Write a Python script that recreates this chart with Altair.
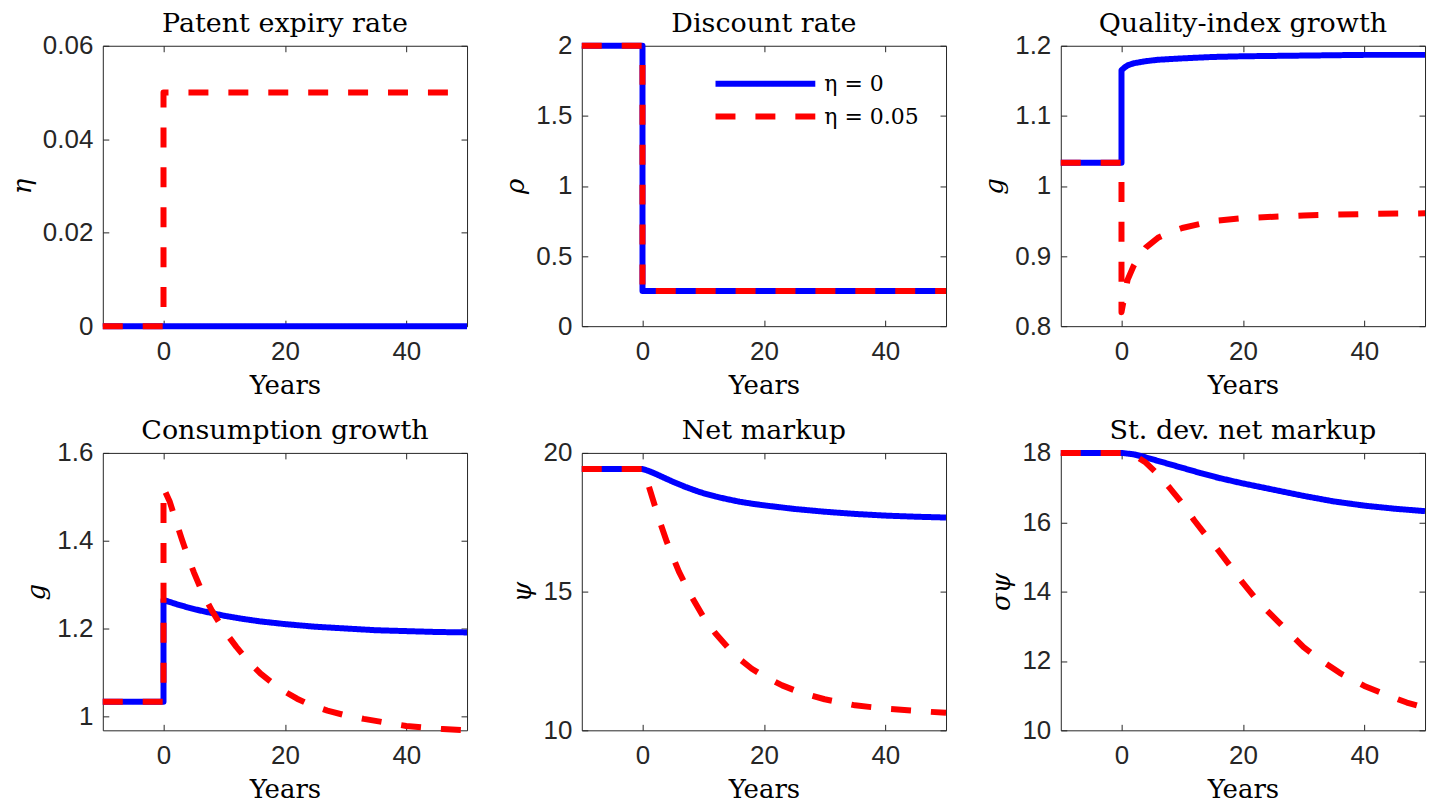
import altair as alt
import pandas as pd

# ---------------- data ----------------
series_names = ["η = 0", "η = 0.05"]
series_colors = ["#0000ff", "#ff0000"]

x_ticks = [0, 20, 40]

# Patent expiry rate
eta_blue_t = [-10, 50]
eta_blue_v = [0.0, 0.0]
eta_red_t = [-10, 0, 0, 50]
eta_red_v = [0.0, 0.0, 0.05, 0.05]

# Discount rate
rho_blue_t = [-10, 0, 0, 50]
rho_blue_v = [2.0, 2.0, 0.25, 0.25]
rho_red_t = [-10, 0, 0, 50]
rho_red_v = [2.0, 2.0, 0.25, 0.25]

# Quality-index growth
qg_blue_t = [-10, 0, 0, 0.5, 1, 2, 4, 6, 10, 15, 20, 30, 40, 50]
qg_blue_v = [1.033, 1.033, 1.165, 1.169, 1.172, 1.175, 1.178, 1.180, 1.182, 1.184, 1.185, 1.186, 1.187, 1.187]
qg_red_t = [-10, 0, 0, 1, 2, 3, 4, 6, 8, 10, 15, 20, 30, 40, 50]
qg_red_v = [1.033, 1.033, 0.820, 0.866, 0.886, 0.900, 0.912, 0.926, 0.934, 0.940, 0.950, 0.954, 0.958, 0.960, 0.961]

# Consumption growth
cg_blue_t = [-10, 0, 0, 2, 4, 6, 8, 10, 13, 16, 20, 25, 30, 35, 40, 45, 50]
cg_blue_v = [1.033, 1.033, 1.265, 1.256, 1.248, 1.241, 1.235, 1.229, 1.222, 1.216, 1.210, 1.204, 1.200, 1.196, 1.194, 1.192, 1.191]
cg_red_t = [-10, 0, 0, 1, 2, 3, 4, 5, 6, 7, 8, 10, 12, 14, 16, 18, 20, 22, 24, 27, 30, 33, 36, 40, 43, 46, 50]
cg_red_v = [1.033, 1.033, 1.52, 1.49, 1.447, 1.404, 1.364, 1.328, 1.295, 1.266, 1.24, 1.195, 1.158, 1.125, 1.097, 1.075,
            1.056, 1.04, 1.027, 1.013, 1.002, 0.994, 0.987, 0.978, 0.974, 0.971, 0.968]

# Net markup
nm_blue_t = [-10, 0, 1, 2, 3, 4, 5, 6, 7, 8, 9, 10, 12, 14, 16, 18, 20, 25, 30, 35, 40, 45, 50]
nm_blue_v = [19.42, 19.42, 19.35, 19.26, 19.16, 19.06, 18.96, 18.87, 18.78, 18.70, 18.62, 18.55, 18.43, 18.33,
             18.24, 18.17, 18.11, 17.98, 17.88, 17.80, 17.74, 17.70, 17.67]
nm_red_t = [-10, 0, 1, 2, 3, 4, 5, 6, 8, 10, 12, 14, 16, 18, 20, 23, 26, 30, 35, 40, 45, 50]
nm_red_v = [19.42, 19.42, 18.82, 18.12, 17.43, 16.8, 16.25, 15.72, 14.85, 14.1, 13.5, 13.0, 12.57, 12.22, 11.95, 11.62,
            11.36, 11.12, 10.9, 10.78, 10.7, 10.63]

# St. dev. net markup
sd_blue_t = [-10, 0, 2, 4, 6, 8, 10, 13, 16, 20, 25, 30, 35, 40, 45, 50]
sd_blue_v = [18.0, 18.0, 17.96, 17.87, 17.77, 17.67, 17.57, 17.42, 17.28, 17.12, 16.94, 16.76, 16.6, 16.48, 16.39, 16.32]
sd_red_t = [-10, 0, 2, 4, 6, 8, 10, 12, 14, 16, 18, 20, 22, 24, 26, 28, 30, 33, 36, 40, 44, 47, 50]
sd_red_v = [18.0, 18.0, 17.95, 17.72, 17.38, 16.98, 16.55, 16.05, 15.6, 15.18, 14.72, 14.25, 13.82, 13.45, 13.1, 12.75,
            12.4, 12.0, 11.65, 11.28, 11.0, 10.8, 10.65]

panels = [
    ("Patent expiry rate", "η", eta_blue_t, eta_blue_v, eta_red_t, eta_red_v, [0, 0.06], [0, 0.02, 0.04, 0.06]),
    ("Discount rate", "ρ", rho_blue_t, rho_blue_v, rho_red_t, rho_red_v, [0, 2], [0, 0.5, 1, 1.5, 2]),
    ("Quality-index growth", "g", qg_blue_t, qg_blue_v, qg_red_t, qg_red_v, [0.8, 1.2], [0.8, 0.9, 1, 1.1, 1.2]),
    ("Consumption growth", "g", cg_blue_t, cg_blue_v, cg_red_t, cg_red_v, [0.968, 1.6], [1, 1.2, 1.4, 1.6]),
    ("Net markup", "ψ", nm_blue_t, nm_blue_v, nm_red_t, nm_red_v, [10, 20], [10, 15, 20]),
    ("St. dev. net markup", "σψ", sd_blue_t, sd_blue_v, sd_red_t, sd_red_v, [10, 18], [10, 12, 14, 16, 18]),
]

AX = "#262626"
SANS = "Liberation Sans"
SERIF = "DejaVu Serif"
LW = 6


def make_panel(k, title, ytitle, bt, bv, rt, rv, ydom, yticks, height):
    df_b = pd.DataFrame({"t": bt, "v": bv, "s": series_names[0], "i": list(range(len(bt)))})
    df_r = pd.DataFrame({"t": rt, "v": rv, "s": series_names[1], "i": list(range(len(rt)))})

    xscale = alt.Scale(domain=[-10, 50], nice=False, zero=False)
    yscale = alt.Scale(domain=ydom, nice=False, zero=False)
    cscale = alt.Scale(domain=series_names, range=series_colors)
    dscale = alt.Scale(domain=series_names, range=[[1, 0], [20, 20]])

    if k == 1:
        leg = alt.Legend(title=None, orient="none", legendX=131, legendY=21.5, symbolType="stroke",
                         symbolSize=10000, symbolStrokeWidth=6, clipHeight=33, rowPadding=0,
                         labelFont=SERIF, labelFontSize=22, labelColor="black", labelOffset=6,
                         padding=0, labelLimit=300)
    else:
        leg = None

    x_main = alt.Axis(orient="bottom", values=x_ticks, offset=-6, tickSize=6, domain=False,
                      tickColor=AX, labelFont=SANS, labelFontSize=26, labelColor=AX, labelPadding=12,
                      labelFlush=False, labelOverlap=False, grid=False,
                      title="Years", titleFont=SERIF, titleFontSize=26, titleFontWeight="normal",
                      titleColor="black", titlePadding=8)
    y_main = alt.Axis(orient="left", values=yticks, offset=-6, tickSize=6, domain=False, format="~g",
                      tickColor=AX, labelFont=SANS, labelFontSize=26, labelColor=AX, labelPadding=10,
                      labelFlush=False, labelOverlap=False, grid=False,
                      title=ytitle, titleFont=SERIF, titleFontSize=26, titleFontStyle="italic",
                      titleFontWeight="normal", titleColor="black", titlePadding=7)
    x_top = alt.Axis(orient="top", values=x_ticks, offset=-6, tickSize=6, domain=False, labels=False,
                     tickColor=AX, grid=False, title=None)
    y_right = alt.Axis(orient="right", values=yticks, offset=-6, tickSize=6, domain=False, labels=False,
                       tickColor=AX, grid=False, title=None)

    blue = alt.Chart(df_b).mark_line(strokeWidth=LW, strokeJoin="round").encode(
        x=alt.X("t:Q", scale=xscale, axis=x_main),
        y=alt.Y("v:Q", scale=yscale, axis=y_main),
        color=alt.Color("s:N", scale=cscale, legend=leg),
        strokeDash=alt.StrokeDash("s:N", scale=dscale, legend=leg),
        order=alt.Order("i:Q"),
    )
    red = alt.Chart(df_r).mark_line(strokeWidth=LW, strokeJoin="round").encode(
        x=alt.X("t:Q", scale=xscale, axis=x_top),
        y=alt.Y("v:Q", scale=yscale, axis=y_right),
        color=alt.Color("s:N", scale=cscale, legend=leg),
        strokeDash=alt.StrokeDash("s:N", scale=dscale, legend=leg),
        order=alt.Order("i:Q"),
    )
    return alt.layer(blue, red).resolve_axis(x="independent", y="independent").properties(
        width=365, height=height,
        title=alt.TitleParams(title, font=SERIF, fontSize=27, fontWeight="normal", color="black",
                              offset=-5, anchor="middle"),
    )


charts = []
for k, p in enumerate(panels):
    h = 281 if k < 3 else 278
    charts.append(make_panel(k, *p, height=h))

chart = alt.concat(*charts, columns=3, spacing={"row": 127, "column": 115}, bounds="flush").resolve_scale(
    color="independent", strokeDash="independent"
).resolve_legend(
    color="independent", strokeDash="independent"
).properties(
    padding={"left": 0, "top": 0, "right": 5, "bottom": 0}, background="white"
).configure_view(stroke=AX, strokeWidth=1).configure_legend(labelFont=SERIF, labelFontSize=22)

chart.save("out.html", embed_options={"renderer": "svg", "actions": False})
